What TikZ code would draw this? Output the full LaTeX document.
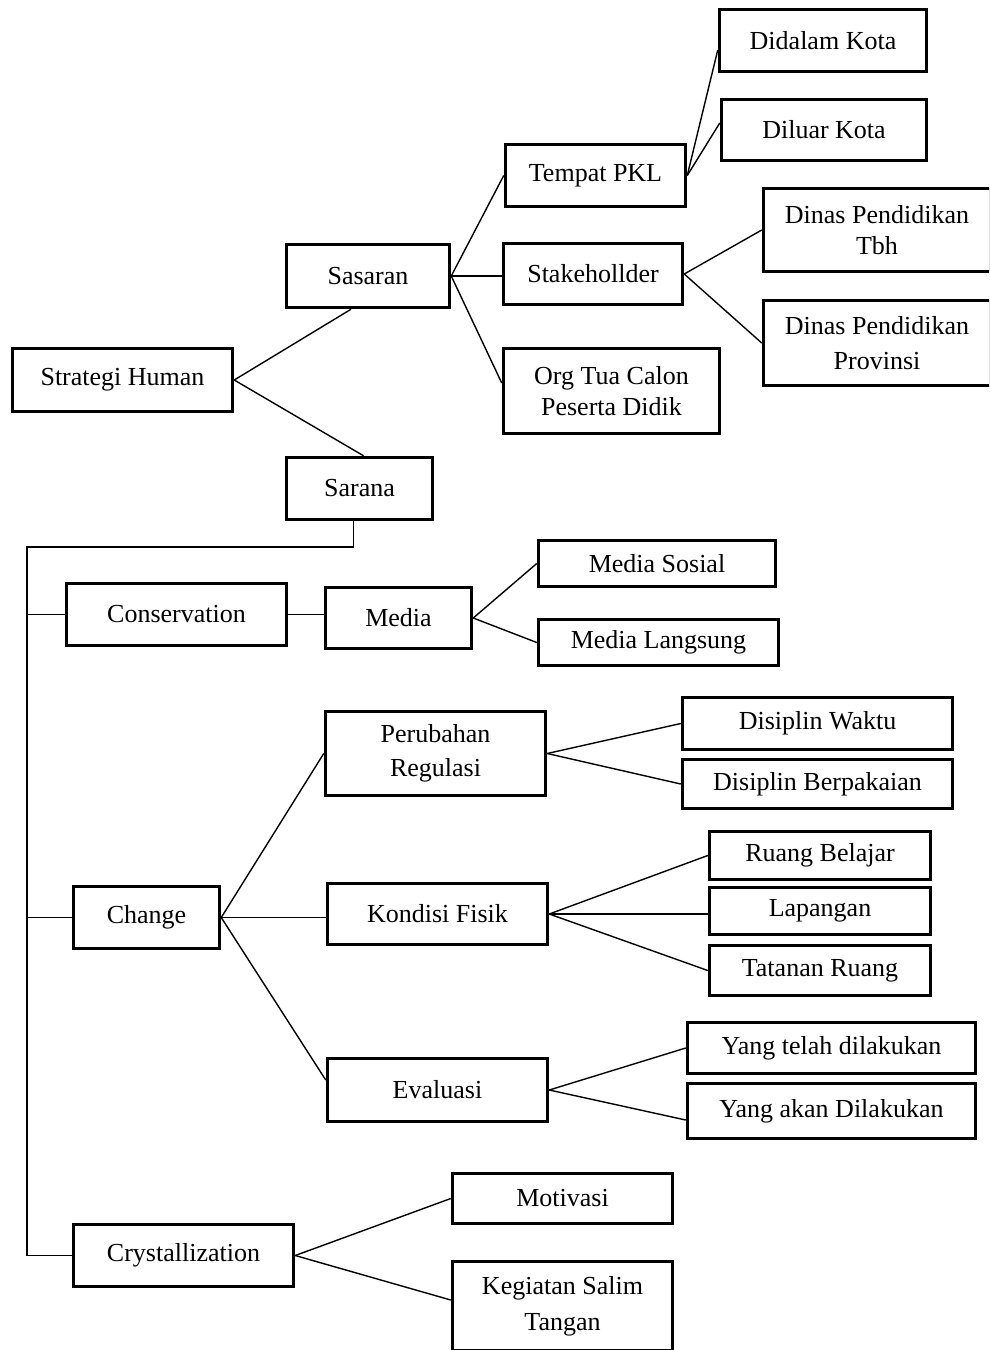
\documentclass[tikz,border=0pt]{standalone}
\usepackage{fontspec}
\setmainfont{Liberation Serif}
\begin{document}
\begin{tikzpicture}[x=1pt,y=-1pt,
  box/.style={draw, line width=3.5pt, inner sep=0pt, align=center,
    font=\fontsize{26}{31}\selectfont},
  conn/.style={line width=1.4pt}]
\clip (0,0) rectangle (989,1350);
\fill[white] (0,0) rectangle (989,1350);
% top part
\node[box, minimum width=220, minimum height=63] (sh) at (122.5,380) {Strategi Human};
\node[box, minimum width=163, minimum height=63] (sas) at (368,276) {Sasaran};
\node[box, minimum width=180, minimum height=62] (tpkl) at (595.5,175.5) {Tempat PKL};
\node[box, minimum width=207, minimum height=62] (dal) at (823,40.5) {Didalam Kota};
\node[box, minimum width=205, minimum height=61] (lua) at (824,130) {Diluar Kota};
\node[box, minimum width=179, minimum height=61] (stk) at (593,274) {Stakehollder};
\node[box, minimum width=227, minimum height=83] (dtbh) at (877,230) {Dinas Pendidikan\\Tbh};
\node[box, minimum width=227, minimum height=85] (dprov) at (877,343) {Dinas Pendidikan\\[4pt]Provinsi};
\node[box, minimum width=216, minimum height=85] (org) at (611.5,391) {Org Tua Calon\\Peserta Didik};
\node[box, minimum width=146, minimum height=62] (sar) at (359.5,488.5) {Sarana};
% middle part
\node[box, minimum width=220, minimum height=62] (cons) at (176.5,614.5) {Conservation};
\node[box, minimum width=146, minimum height=61] (med) at (398.5,618) {Media};
\node[box, minimum width=237, minimum height=46] (msos) at (657,563.5) {Media Sosial};
\node[box, minimum width=240, minimum height=46] (mlan) at (658.5,642.5) {Media Langsung};
\node[box, minimum width=220, minimum height=84] (per) at (435.5,753.5) {Perubahan\\[3pt]Regulasi};
\node[box, minimum width=270, minimum height=52] (dwak) at (817.5,723.5) {Disiplin Waktu};
\node[box, minimum width=270, minimum height=49] (dber) at (817.5,784) {Disiplin Berpakaian};
\node[box, minimum width=146, minimum height=62] (chg) at (146.5,917.5) {Change};
\node[box, minimum width=220, minimum height=61] (kon) at (437.5,914) {Kondisi Fisik};
\node[box, minimum width=221, minimum height=48] (rb) at (820,855.5) {Ruang Belajar};
\node[box, minimum width=221, minimum height=47] (lap) at (820,911) {Lapangan};
\node[box, minimum width=221, minimum height=50] (tat) at (820,970.5) {Tatanan Ruang};
\node[box, minimum width=220, minimum height=63] (eva) at (437.5,1090) {Evaluasi};
\node[box, minimum width=288, minimum height=51] (yt) at (831.5,1048) {Yang telah dilakukan};
\node[box, minimum width=288, minimum height=55] (ya) at (831.5,1111) {Yang akan Dilakukan};
\node[box, minimum width=220, minimum height=62] (cry) at (183.5,1255.5) {Crystallization};
\node[box, minimum width=220, minimum height=50] (mot) at (562.5,1198.5) {Motivasi};
\node[box, minimum width=220, minimum height=89] (keg) at (562.5,1306) {Kegiatan Salim\\[5pt]Tangan};
% connectors
\draw[conn] (sh.east) -- ([xshift=-17pt]sas.south);
\draw[conn] (sh.east) -- ([xshift=4pt]sar.north);
\draw[conn] (sas.east) -- (tpkl.west);
\draw[conn] (sas.east) -- (sas.east -| stk.west);
\draw[conn] (sas.east) -- ([yshift=8pt]org.west);
\draw[conn] (tpkl.east) -- ([yshift=-9.5pt]dal.west);
\draw[conn] (tpkl.east) -- ([yshift=7pt]lua.west);
\draw[conn] (stk.east) -- (dtbh.west);
\draw[conn] (stk.east) -- (dprov.west);
\coordinate (t0) at (27,547);
\draw[conn] ([xshift=-6pt]sar.south) |- (t0) -- (t0 |- cry.west);
\draw[conn] (t0 |- cons.west) -- (cons.west);
\draw[conn] (t0 |- chg.west) -- (chg.west);
\draw[conn] (t0 |- cry.west) -- (cry.west);
\draw[conn] (cons.east) -- (cons.east -| med.west);
\draw[conn] (med.east) -- (msos.west);
\draw[conn] (med.east) -- (mlan.west);
\draw[conn] (per.east) -- (dwak.west);
\draw[conn] (per.east) -- (dber.west);
\draw[conn] (chg.east) -- (per.west);
\draw[conn] (chg.east) -- (chg.east -| kon.west);
\draw[conn] (chg.east) -- ([yshift=10pt]eva.west);
\draw[conn] (kon.east) -- (rb.west);
\draw[conn] (kon.east) -- (kon.east -| lap.west);
\draw[conn] (kon.east) -- (tat.west);
\draw[conn] (eva.east) -- (yt.west);
\draw[conn] (eva.east) -- ([yshift=-9pt]ya.west);
\draw[conn] (cry.east) -- (mot.west);
\draw[conn] (cry.east) -- ([yshift=6pt]keg.west);
\end{tikzpicture}
\end{document}
